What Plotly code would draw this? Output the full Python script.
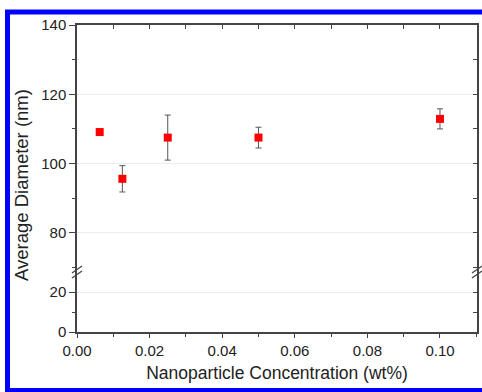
import plotly.graph_objects as go

# Data
concentration = [0.00625, 0.0125, 0.025, 0.05, 0.1]
diameter = [109.1, 95.6, 107.5, 107.5, 112.9]
diameter_err = [0.7, 3.8, 6.5, 3.0, 2.9]

x_range = [0, 0.1102]
lower_range = [0, 30]
upper_range = [68.7, 140]
break_frac = 0.1954

W, H = 482, 392
ML, MR, MT, MB = 77, 5, 25, 60
PW = W - ML - MR
PH = H - MT - MB

AX = "#444444"
TXT = "#222222"
GRID = "#ececec"
FONT = "Liberation Sans, Arial, sans-serif"

fig = go.Figure()
fig.add_trace(go.Scatter(
    x=concentration, y=diameter, mode="markers",
    xaxis="x2", yaxis="y2",
    marker=dict(symbol="square", size=8, color="#ff0000", line=dict(width=0)),
    error_y=dict(type="data", array=diameter_err, visible=True,
                 color="#555555", thickness=1, width=3),
    showlegend=False, hoverinfo="skip",
))
# empty helper traces so every axis gets drawn
fig.add_trace(go.Scatter(x=[None], y=[None], xaxis="x", yaxis="y", showlegend=False))
fig.add_trace(go.Scatter(x=[None], y=[None], xaxis="x", yaxis="y3", showlegend=False))
fig.add_trace(go.Scatter(x=[None], y=[None], xaxis="x2", yaxis="y4", showlegend=False))

tickfont = dict(family=FONT, size=15, color=TXT)
common = dict(showline=True, linecolor=AX, linewidth=1.5, zeroline=False, tickcolor=AX)

fig.update_layout(
    width=W, height=H,
    margin=dict(l=ML, r=MR, t=MT, b=MB),
    paper_bgcolor="white", plot_bgcolor="white",
    font=dict(family=FONT, color=TXT),
    xaxis=dict(domain=[0, 1], anchor="y", range=x_range, dtick=0.02, tick0=0,
               tickformat=".2f", ticks="outside", ticklen=4, tickwidth=1.2,
               showgrid=False, tickfont=tickfont,
               minor=dict(dtick=0.01, tick0=0, ticks="outside", ticklen=3, tickcolor=AX),
               title=dict(text="Nanoparticle Concentration (wt%)",
                          font=dict(family=FONT, size=17.5, color=TXT), standoff=9),
               **common),
    xaxis2=dict(domain=[0, 1], anchor="y2", side="top", range=x_range,
                dtick=0.01, tick0=0, ticks="inside", ticklen=4,
                showticklabels=False, showgrid=False, **common),
    yaxis=dict(domain=[0, break_frac], anchor="x", range=lower_range,
               tickvals=[0, 20], ticks="outside", ticklen=6,
               showgrid=True, gridcolor=GRID, gridwidth=1, tickfont=tickfont,
               minor=dict(tickvals=[10], ticks="outside", ticklen=3, tickcolor=AX),
               **common),
    yaxis2=dict(domain=[break_frac, 1], anchor="x2", range=upper_range,
                tickvals=[80, 100, 120, 140], ticks="outside", ticklen=6,
                showgrid=True, gridcolor=GRID, gridwidth=1, tickfont=tickfont,
                minor=dict(tickvals=[70, 90, 110, 130], ticks="outside", ticklen=3,
                           tickcolor=AX),
                **common),
    yaxis3=dict(overlaying="y", anchor="x", side="right", range=lower_range,
                tickvals=[0, 10, 20], ticks="inside", ticklen=4,
                showticklabels=False, showgrid=False, **common),
    yaxis4=dict(overlaying="y2", anchor="x2", side="right", range=upper_range,
                tickvals=[70, 80, 90, 100, 110, 120, 130, 140], ticks="inside",
                ticklen=4, showticklabels=False, showgrid=False, **common),
)

# y axis title as annotation
fig.add_annotation(text="Average Diameter (nm)", xref="paper", yref="paper",
                   x=(21 - ML) / PW, y=(H - MB - 185) / PH, textangle=-90,
                   xanchor="center", yanchor="middle",
                   showarrow=False, font=dict(family=FONT, size=18.5, color=TXT))

def px_x(p):
    return (p - ML) / PW

def px_y(p):
    return (H - MB - p) / PH

shapes = []
# axis break marks on both sides
for xc in (ML, ML + PW):
    for off in (-2.5, 2.5):
        shapes.append(dict(type="line", xref="paper", yref="paper",
                           x0=px_x(xc - 5), y0=px_y(272 + off + 3.5),
                           x1=px_x(xc + 5), y1=px_y(272 + off - 3.5),
                           line=dict(color=AX, width=1.3)))
# blue frame
shapes.append(dict(type="rect", xref="paper", yref="paper",
                   x0=px_x(7.5), x1=px_x(486), y0=px_y(390.5), y1=px_y(12),
                   line=dict(color="#0000ff", width=5), layer="above"))
fig.update_layout(shapes=shapes)

fig.write_html("out.html", config={"displayModeBar": False},
               post_script="document.body.style.margin='0';")
